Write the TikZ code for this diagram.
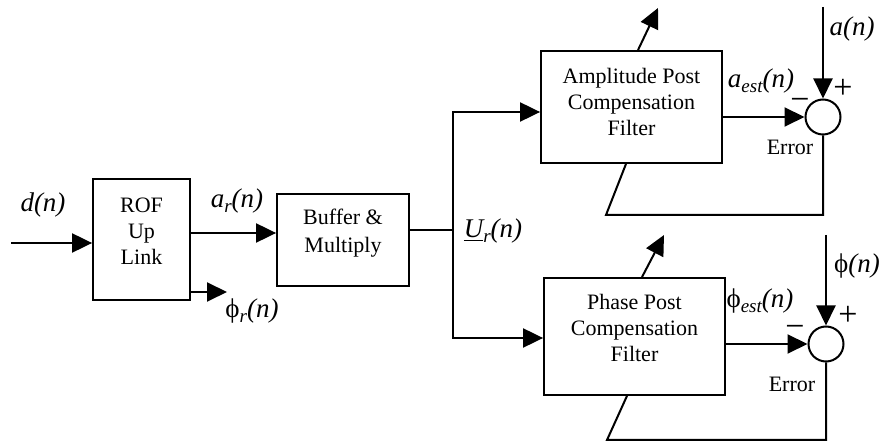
\documentclass[tikz,border=0pt]{standalone}
\usepackage{fontspec}
\setmainfont{Liberation Serif}
\usetikzlibrary{arrows.meta}
% lowered index inside the signal labels
\newcommand\lowidx[1]{\raisebox{-0.4ex}{\fontsize{9.5}{10}\selectfont #1}}
\begin{document}
\begin{tikzpicture}[x=0.5pt,y=-0.5pt,
  line width=1pt,
  arr/.style={-{Triangle[length=10pt,width=9.5pt]}},
  blk/.style={draw, line width=0.9pt, inner sep=0pt},
  blktxt/.style={align=center, inner sep=0pt, font=\fontsize{11}{13}\selectfont},
  sum/.style={draw, circle, minimum size=17.5pt, inner sep=0pt, line width=1pt},
  lbl/.style={inner sep=0pt, font=\fontsize{13.5}{16}\selectfont\itshape},
  sgn/.style={inner sep=0pt, font=\fontsize{17}{18}\selectfont},
  errtxt/.style={inner sep=0pt, font=\fontsize{11}{13}\selectfont}]
\useasboundingbox (0,0) rectangle (880,443);

% blocks
\node[blk, minimum width=48.5pt, minimum height=60.5pt] (rof) at (141.5,239.5) {};
\node[blktxt] (roftxt) at (141.5,231) {ROF\\Up\\Link};
\node[blk, minimum width=66pt, minimum height=46pt] (buf) at (343,240) {};
\node[blktxt, font=\fontsize{11}{14}\selectfont] (buftxt) at (343,233) {Buffer \&\\Multiply};
\node[blk, minimum width=90.5pt, minimum height=56pt] (amp) at (631.5,107) {};
\node[blktxt] (amptxt) at (631.5,102) {Amplitude Post\\Compensation\\Filter};
\node[blk, minimum width=90.5pt, minimum height=58.5pt] (pha) at (634.5,336.5) {};
\node[blktxt] (phatxt) at (634.5,328) {Phase Post\\Compensation\\Filter};

% summing junctions
\node[sum] (s1) at (823,117) {};
\node[sum] (s2) at (826,344) {};

% free ends
\coordinate (din) at (11,243);
\coordinate (phir) at (227,292);
\coordinate (split) at (453,230);
\coordinate (atop) at (823,7);
\coordinate (ptop) at (826,235);
\coordinate (adapt1) at (658,8);
\coordinate (adapt2) at (664,235);
\coordinate (fb1) at (606,215);
\coordinate (fb2) at (607,440);

% forward path
\draw[arr] (din) -- (din -| rof.west);
\draw[arr] (rof.east |- 0,233) -- (buf.west |- 0,233);
\draw[arr] (rof.east |- phir) -- (phir);
\draw (buf.east |- split) -- (split);
\draw[arr] (split) |- (amp.west |- 0,112);
\draw[arr] (split) |- (pha.west |- 0,338);

% amplitude branch
\draw[arr] (amp.east |- s1.west) -- (s1.west);
\draw[arr] (atop) -- (s1.north);
\draw (s1.south) |- (fb1) -- (626,0 |- amp.south);
\draw[arr] (638,0 |- amp.north) -- (adapt1);

% phase branch
\draw[arr] (pha.east |- s2.west) -- (s2.west);
\draw[arr] (ptop) -- (s2.north);
\draw (s2.south) |- (fb2) -- (627,0 |- pha.south);
\draw[arr] (642,0 |- pha.north) -- (adapt2);

% signal labels
\node[lbl] (ldn) at (43,205) {d(n)};
\node[lbl] (lar) at (237,201) {a\lowidx{r}(n)};
\node[lbl] (lphr) at (252,311) {{\upshape ϕ}\lowidx{r}(n)};
\node[lbl] (lur) at (493,231) {\underline{U}\lowidx{r}(n)};
\node[lbl] (lan) at (852,29) {a(n)};
\node[lbl] (laest) at (761,81) {a\lowidx{est}(n)};
\node[lbl] (lphest) at (760,301) {{\upshape ϕ}\lowidx{est}(n)};
\node[lbl] (lphn) at (857,266) {{\upshape ϕ}(n)};

% signs and error labels
\node[sgn] (p1) at (843,89) {+};
\node[sgn] (m1) at (800,104) {−};
\node[sgn] (p2) at (848,316) {+};
\node[sgn] (m2) at (795,331) {−};
\node[errtxt] (e1) at (790,147) {Error};
\node[errtxt] (e2) at (792,384) {Error};
\end{tikzpicture}
\end{document}
